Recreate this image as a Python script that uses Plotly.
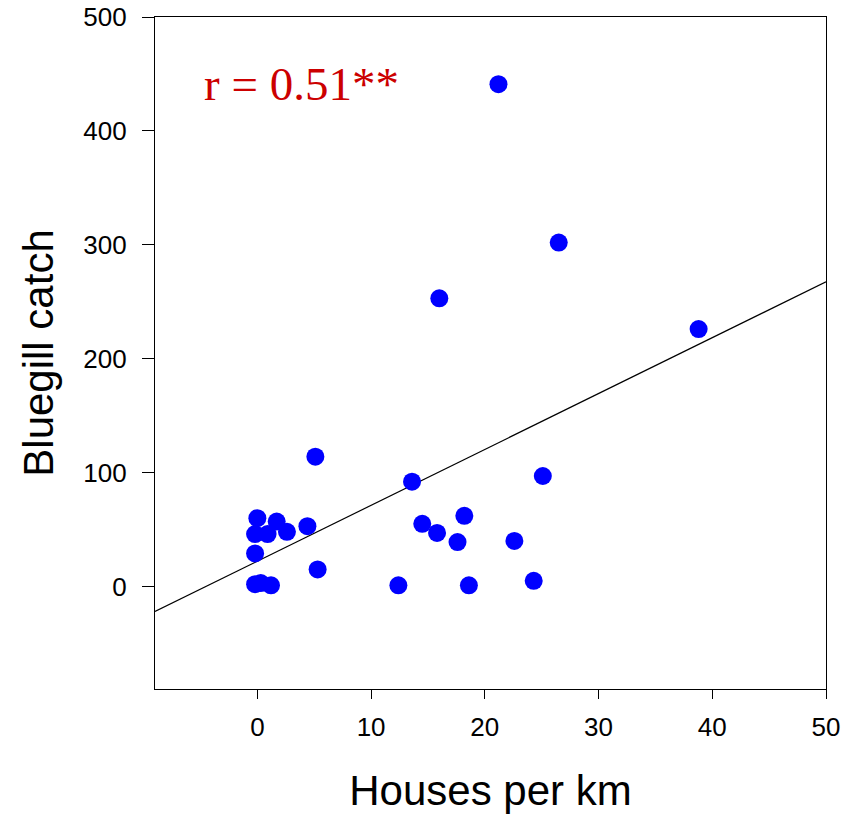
import plotly.graph_objects as go

houses = [0.0, 1.7, -0.2, 0.9, 2.6, 4.4, 5.1, -0.2, 5.3, -0.2, 0.3, 1.2,
          12.4, 13.6, 14.5, 15.8, 16.0, 17.6, 18.2, 18.6, 21.2, 22.6, 24.3,
          25.1, 26.5, 38.8]
catch = [60, 57, 46, 46, 48, 53, 114, 29, 15, 2, 3, 1,
         1, 92, 55, 47, 253, 39, 62, 1, 441, 40, 5,
         97, 302, 226]

fit_intercept = 22.2
fit_slope = 4.907
x_range = [-9, 50]
y_range = [-90, 500]
x_ticks = [0, 10, 20, 30, 40, 50]
y_ticks = [0, 100, 200, 300, 400, 500]
annotation_text = "r = 0.51**"

fig = go.Figure()
fig.add_trace(go.Scatter(
    x=x_range,
    y=[fit_intercept + fit_slope * v for v in x_range],
    mode="lines", line=dict(color="black", width=1.2),
    hoverinfo="skip", showlegend=False))
fig.add_trace(go.Scatter(
    x=houses, y=catch, mode="markers",
    marker=dict(color="#0000ff", size=18, line=dict(width=0)),
    showlegend=False))

fig.add_annotation(
    x=-4.85, y=441, xref="x", yref="y", text=annotation_text,
    showarrow=False, xanchor="left", yanchor="middle",
    font=dict(family="Liberation Serif, Times New Roman, serif", size=47, color="#cc0000"))

axis_font = dict(family="Liberation Sans, Arial, sans-serif", size=26, color="black")
title_font = dict(family="Liberation Sans, Arial, sans-serif", size=42, color="black")
fig.update_xaxes(
    range=x_range, tickvals=x_ticks, ticks="outside", ticklen=9, tickwidth=1.2,
    tickcolor="black", showline=True, linecolor="black", linewidth=1.2, mirror=True,
    showgrid=False, zeroline=False, tickfont=axis_font, ticklabelstandoff=6,
    automargin=False,
    title=dict(text="Houses per km", font=title_font, standoff=36))
fig.update_yaxes(
    range=y_range, tickvals=y_ticks, ticks="outside", ticklen=12, tickwidth=1.2,
    tickcolor="black", showline=True, linecolor="black", linewidth=1.2, mirror=True,
    showgrid=False, zeroline=False, tickfont=axis_font, ticklabelstandoff=10,
    automargin=False,
    title=dict(text="Bluegill catch", font=title_font, standoff=16))

fig.update_layout(
    width=860, height=814,
    margin=dict(l=155, r=34, t=17, b=125, autoexpand=False),
    plot_bgcolor="white", paper_bgcolor="white")

fig.write_html("out.html")
